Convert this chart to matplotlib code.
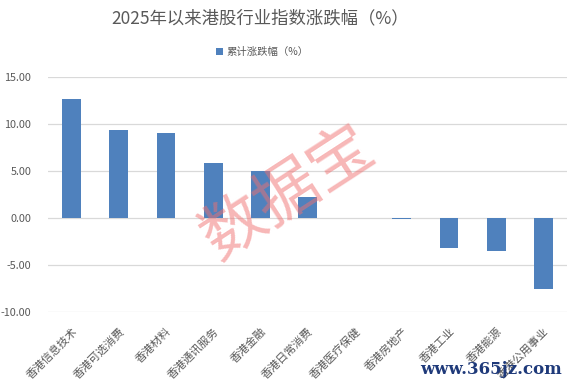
import matplotlib
matplotlib.use("Agg")
import matplotlib.pyplot as plt
import numpy as np

plt.rcParams['font.family'] = ['Noto Sans CJK SC', 'DejaVu Sans']

categories = ["香港信息技术", "香港可选消费", "香港材料", "香港通讯服务", "香港金融",
              "香港日常消费", "香港医疗保健", "香港房地产", "香港工业", "香港能源", "香港公用事业"]
values = [12.65, 9.34, 9.02, 5.84, 4.99, 2.26, 0.02, -0.15, -3.15, -3.47, -7.50]
yticks = [-10, -5, 0, 5, 10, 15]

fig = plt.figure(figsize=(5.72, 3.86), dpi=100)
ax = fig.add_axes([48/572, 1-312/386, (567-48)/572, (312-77)/386])

x = np.arange(len(categories))
ax.bar(x, values, width=0.4, color="#4f81bd", zorder=3, label="累计涨跌幅（%）")
ax.set_xlim(-0.5, len(categories)-0.5)
ax.set_ylim(-10, 15)
ax.set_yticks(yticks)
ax.set_yticklabels([f"{v:.2f}" for v in yticks], color="#595959", fontsize=7.8)
ax.grid(axis='y', color="#d9d9d9", linewidth=0.9, zorder=0)
for s in ax.spines.values():
    s.set_visible(False)
ax.tick_params(axis='both', length=0)
ax.tick_params(axis='y', pad=12)
ax.set_xticks(x)
ax.set_xticklabels(categories, rotation=45, ha='right', va='top', rotation_mode='anchor',
                   color="#595959", fontsize=8)
ax.tick_params(axis='x', pad=10)

fig.text(260/572, 1-18/386, "2025年以来港股行业指数涨跌幅（%）", ha='center', va='center',
         fontsize=12.5, color="#595959")
leg = fig.legend(loc='center', bbox_to_anchor=(262/572, 1-52/386), frameon=False, fontsize=7.5,
                 handlelength=0.7, handleheight=0.7, handletextpad=0.3)
for t in leg.get_texts():
    t.set_color("#595959")

# watermark
fig.text(288/572, 1-193/386, "数据宝", ha='center', va='center', fontsize=46,
         color="#f07070", alpha=0.5, rotation=33, zorder=10)
fig.text(562/572, 1-370/386, "www.365jz.com", ha='right', va='center', fontsize=12,
         color="#1f3a7a", family=['DejaVu Serif'], fontweight='bold')

fig.savefig("out.png", dpi=100)
